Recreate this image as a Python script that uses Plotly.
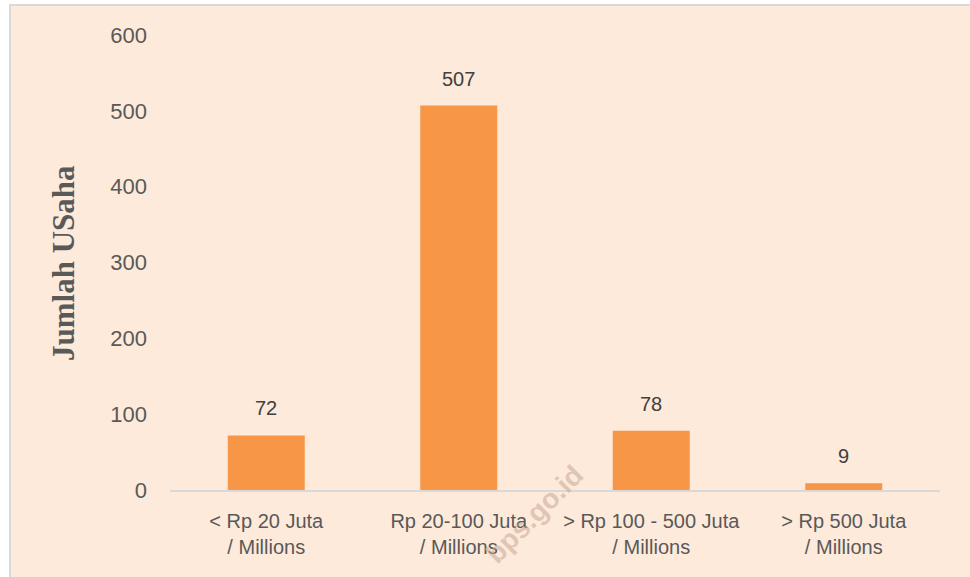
import plotly.graph_objects as go

categories = ["< Rp 20 Juta<br>/ Millions", "Rp 20-100 Juta<br>/ Millions",
              "> Rp 100 - 500 Juta<br>/ Millions", "> Rp 500 Juta<br>/ Millions"]
values = [72, 507, 78, 9]
y_ticks = [0, 100, 200, 300, 400, 500, 600]

FONT = "Liberation Sans, Arial"

fig = go.Figure(go.Bar(
    x=categories, y=values, marker=dict(color="#F79646", line=dict(width=0)),
    hoverinfo="x+y",
))

for c, v in zip(categories, values):
    fig.add_annotation(x=c, y=v, text=str(v), showarrow=False, yanchor="bottom",
                       yshift=14, font=dict(family=FONT, size=20, color="#404040"))

L, R, T, B = 170, 30, 35, 87
W, H = 970, 577
pw, ph = W - L - R, H - T - B

def px_x(p):
    return (p - L) / pw

def px_y(p):
    return (H - B - p) / ph

fig.add_shape(type="rect", xref="paper", yref="paper",
              x0=px_x(10), x1=px_x(990), y0=px_y(600), y1=px_y(5),
              fillcolor="#FDEADA", line=dict(color="#D9D9D9", width=2), layer="below")

fig.add_annotation(text="<b>Jumlah USaha</b>", xref="paper", yref="paper",
                   x=px_x(63), y=px_y(263), textangle=-90, showarrow=False,
                   font=dict(family="Liberation Serif, Times New Roman", size=31, color="#595959"),
                   xanchor="center", yanchor="middle")

fig.add_annotation(text="<b>bps.go.id</b>", xref="paper", yref="paper",
                   x=px_x(534), y=px_y(514), textangle=-45, showarrow=False,
                   xanchor="center", yanchor="middle",
                   font=dict(family=FONT, size=28, color="rgba(200,165,150,0.55)"))

fig.update_layout(
    width=W, height=H, margin=dict(l=L, r=R, t=T, b=B),
    paper_bgcolor="white", plot_bgcolor="rgba(0,0,0,0)",
    bargap=0.6, showlegend=False,
    font=dict(family=FONT, size=20, color="#595959"),
)
fig.update_xaxes(showline=True, linecolor="#D9D9D9", linewidth=1.5, ticks="",
                 ticklabelstandoff=12,
                 tickfont=dict(size=20, color="#595959"), showgrid=False)
fig.update_yaxes(range=[0, 600], tickvals=y_ticks, showgrid=False, zeroline=False,
                 showline=False, ticks="", ticklabelstandoff=22,
                 tickfont=dict(size=22, color="#595959"))

fig.write_html("out.html", config={"displayModeBar": False},
               post_script="document.body.style.margin='0';document.body.style.overflow='hidden';")
